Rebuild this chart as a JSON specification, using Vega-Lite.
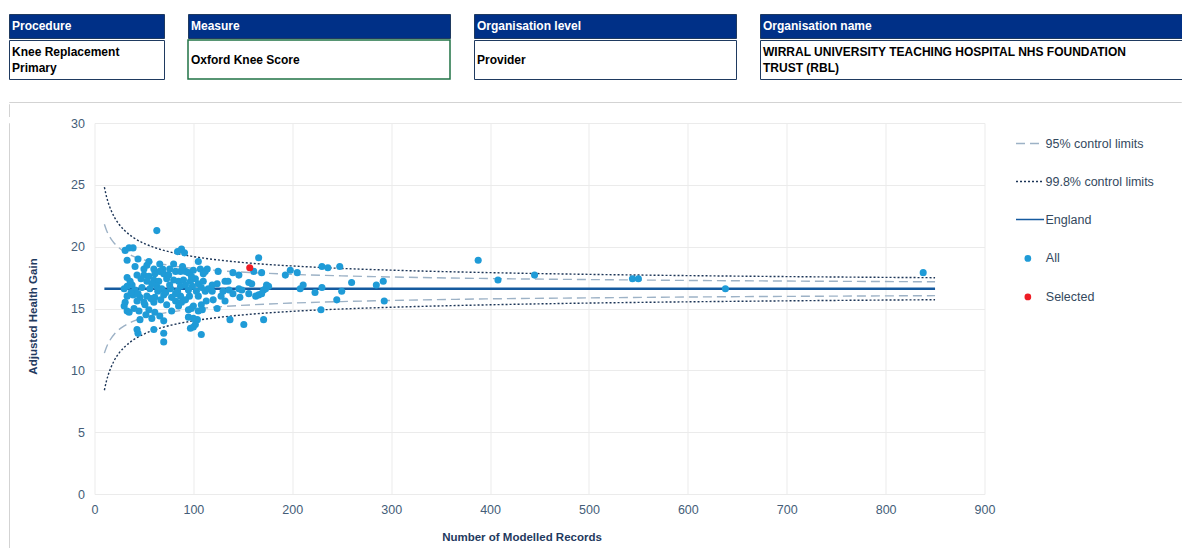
{
  "$schema": "https://vega.github.io/schema/vega-lite/v6.json",
  "background": "white",
  "padding": {"left": 8, "top": 13, "right": 0, "bottom": 0},
  "autosize": {"type": "pad"},
  "config": {"view": {"stroke": null}, "font": "Liberation Sans"},
  "datasets": {
    "lines": [
      {"n":10,"v":21.81,"series":"95% control limits","side":"u95"},{"n":12,"v":21.35,"series":"95% control limits","side":"u95"},{"n":15,"v":20.85,"series":"95% control limits","side":"u95"},{"n":17,"v":20.59,"series":"95% control limits","side":"u95"},{"n":20,"v":20.28,"series":"95% control limits","side":"u95"},{"n":25,"v":19.89,"series":"95% control limits","side":"u95"},{"n":30,"v":19.61,"series":"95% control limits","side":"u95"},{"n":35,"v":19.38,"series":"95% control limits","side":"u95"},{"n":40,"v":19.2,"series":"95% control limits","side":"u95"},{"n":50,"v":18.93,"series":"95% control limits","side":"u95"},{"n":60,"v":18.72,"series":"95% control limits","side":"u95"},{"n":70,"v":18.57,"series":"95% control limits","side":"u95"},{"n":80,"v":18.44,"series":"95% control limits","side":"u95"},{"n":100,"v":18.25,"series":"95% control limits","side":"u95"},{"n":130,"v":18.04,"series":"95% control limits","side":"u95"},{"n":160,"v":17.9,"series":"95% control limits","side":"u95"},{"n":200,"v":17.76,"series":"95% control limits","side":"u95"},{"n":250,"v":17.64,"series":"95% control limits","side":"u95"},{"n":300,"v":17.55,"series":"95% control limits","side":"u95"},{"n":400,"v":17.42,"series":"95% control limits","side":"u95"},{"n":500,"v":17.34,"series":"95% control limits","side":"u95"},{"n":600,"v":17.27,"series":"95% control limits","side":"u95"},{"n":700,"v":17.22,"series":"95% control limits","side":"u95"},{"n":850,"v":17.16,"series":"95% control limits","side":"u95"},
      {"n":10,"v":11.39,"series":"95% control limits","side":"l95"},{"n":12,"v":11.85,"series":"95% control limits","side":"l95"},{"n":15,"v":12.35,"series":"95% control limits","side":"l95"},{"n":17,"v":12.61,"series":"95% control limits","side":"l95"},{"n":20,"v":12.92,"series":"95% control limits","side":"l95"},{"n":25,"v":13.31,"series":"95% control limits","side":"l95"},{"n":30,"v":13.59,"series":"95% control limits","side":"l95"},{"n":35,"v":13.82,"series":"95% control limits","side":"l95"},{"n":40,"v":14.0,"series":"95% control limits","side":"l95"},{"n":50,"v":14.27,"series":"95% control limits","side":"l95"},{"n":60,"v":14.48,"series":"95% control limits","side":"l95"},{"n":70,"v":14.63,"series":"95% control limits","side":"l95"},{"n":80,"v":14.76,"series":"95% control limits","side":"l95"},{"n":100,"v":14.95,"series":"95% control limits","side":"l95"},{"n":130,"v":15.16,"series":"95% control limits","side":"l95"},{"n":160,"v":15.3,"series":"95% control limits","side":"l95"},{"n":200,"v":15.44,"series":"95% control limits","side":"l95"},{"n":250,"v":15.56,"series":"95% control limits","side":"l95"},{"n":300,"v":15.65,"series":"95% control limits","side":"l95"},{"n":400,"v":15.78,"series":"95% control limits","side":"l95"},{"n":500,"v":15.86,"series":"95% control limits","side":"l95"},{"n":600,"v":15.93,"series":"95% control limits","side":"l95"},{"n":700,"v":15.98,"series":"95% control limits","side":"l95"},{"n":850,"v":16.04,"series":"95% control limits","side":"l95"},
      {"n":10,"v":24.81,"series":"99.8% control limits","side":"u998"},{"n":12,"v":24.09,"series":"99.8% control limits","side":"u998"},{"n":15,"v":23.3,"series":"99.8% control limits","side":"u998"},{"n":17,"v":22.9,"series":"99.8% control limits","side":"u998"},{"n":20,"v":22.4,"series":"99.8% control limits","side":"u998"},{"n":25,"v":21.79,"series":"99.8% control limits","side":"u998"},{"n":30,"v":21.34,"series":"99.8% control limits","side":"u998"},{"n":35,"v":20.99,"series":"99.8% control limits","side":"u998"},{"n":40,"v":20.7,"series":"99.8% control limits","side":"u998"},{"n":50,"v":20.27,"series":"99.8% control limits","side":"u998"},{"n":60,"v":19.95,"series":"99.8% control limits","side":"u998"},{"n":70,"v":19.7,"series":"99.8% control limits","side":"u998"},{"n":80,"v":19.5,"series":"99.8% control limits","side":"u998"},{"n":100,"v":19.2,"series":"99.8% control limits","side":"u998"},{"n":130,"v":18.88,"series":"99.8% control limits","side":"u998"},{"n":160,"v":18.65,"series":"99.8% control limits","side":"u998"},{"n":200,"v":18.44,"series":"99.8% control limits","side":"u998"},{"n":250,"v":18.24,"series":"99.8% control limits","side":"u998"},{"n":300,"v":18.1,"series":"99.8% control limits","side":"u998"},{"n":400,"v":17.9,"series":"99.8% control limits","side":"u998"},{"n":500,"v":17.76,"series":"99.8% control limits","side":"u998"},{"n":600,"v":17.66,"series":"99.8% control limits","side":"u998"},{"n":700,"v":17.58,"series":"99.8% control limits","side":"u998"},{"n":850,"v":17.49,"series":"99.8% control limits","side":"u998"},
      {"n":10,"v":8.39,"series":"99.8% control limits","side":"l998"},{"n":12,"v":9.11,"series":"99.8% control limits","side":"l998"},{"n":15,"v":9.9,"series":"99.8% control limits","side":"l998"},{"n":17,"v":10.3,"series":"99.8% control limits","side":"l998"},{"n":20,"v":10.8,"series":"99.8% control limits","side":"l998"},{"n":25,"v":11.41,"series":"99.8% control limits","side":"l998"},{"n":30,"v":11.86,"series":"99.8% control limits","side":"l998"},{"n":35,"v":12.21,"series":"99.8% control limits","side":"l998"},{"n":40,"v":12.5,"series":"99.8% control limits","side":"l998"},{"n":50,"v":12.93,"series":"99.8% control limits","side":"l998"},{"n":60,"v":13.25,"series":"99.8% control limits","side":"l998"},{"n":70,"v":13.5,"series":"99.8% control limits","side":"l998"},{"n":80,"v":13.7,"series":"99.8% control limits","side":"l998"},{"n":100,"v":14.0,"series":"99.8% control limits","side":"l998"},{"n":130,"v":14.32,"series":"99.8% control limits","side":"l998"},{"n":160,"v":14.55,"series":"99.8% control limits","side":"l998"},{"n":200,"v":14.77,"series":"99.8% control limits","side":"l998"},{"n":250,"v":14.96,"series":"99.8% control limits","side":"l998"},{"n":300,"v":15.1,"series":"99.8% control limits","side":"l998"},{"n":400,"v":15.3,"series":"99.8% control limits","side":"l998"},{"n":500,"v":15.44,"series":"99.8% control limits","side":"l998"},{"n":600,"v":15.54,"series":"99.8% control limits","side":"l998"},{"n":700,"v":15.62,"series":"99.8% control limits","side":"l998"},{"n":850,"v":15.71,"series":"99.8% control limits","side":"l998"}
    ],
    "england": [
      {"n":10,"v":16.6,"series":"England"},{"n":850,"v":16.6,"series":"England"}
    ],
    "points": [
      {"n":63,"v":21.3,"grp":"All"},{"n":31,"v":19.7,"grp":"All"},{"n":35,"v":19.9,"grp":"All"},{"n":39,"v":19.9,"grp":"All"},{"n":84,"v":19.6,"grp":"All"},{"n":88,"v":19.8,"grp":"All"},{"n":91,"v":19.5,"grp":"All"},{"n":33,"v":18.9,"grp":"All"},{"n":44,"v":19.0,"grp":"All"},{"n":55,"v":18.8,"grp":"All"},{"n":66,"v":18.6,"grp":"All"},{"n":80,"v":18.6,"grp":"All"},{"n":105,"v":18.8,"grp":"All"},{"n":41,"v":18.4,"grp":"All"},{"n":50,"v":18.2,"grp":"All"},{"n":53,"v":18.5,"grp":"All"},{"n":60,"v":18.2,"grp":"All"},{"n":69,"v":18.2,"grp":"All"},{"n":70,"v":17.8,"grp":"All"},{"n":82,"v":18.0,"grp":"All"},{"n":87,"v":18.0,"grp":"All"},{"n":92,"v":18.0,"grp":"All"},{"n":95,"v":17.9,"grp":"All"},{"n":100,"v":18.1,"grp":"All"},{"n":107,"v":18.2,"grp":"All"},{"n":112,"v":18.0,"grp":"All"},{"n":114,"v":18.2,"grp":"All"},{"n":43,"v":17.7,"grp":"All"},{"n":50,"v":17.7,"grp":"All"},{"n":55,"v":17.6,"grp":"All"},{"n":61,"v":17.8,"grp":"All"},{"n":33,"v":17.5,"grp":"All"},{"n":53,"v":17.2,"grp":"All"},{"n":60,"v":17.3,"grp":"All"},{"n":65,"v":17.2,"grp":"All"},{"n":73,"v":17.4,"grp":"All"},{"n":80,"v":17.3,"grp":"All"},{"n":85,"v":17.2,"grp":"All"},{"n":90,"v":17.3,"grp":"All"},{"n":97,"v":17.2,"grp":"All"},{"n":102,"v":17.4,"grp":"All"},{"n":105,"v":17.0,"grp":"All"},{"n":110,"v":17.2,"grp":"All"},
      {"n":33,"v":16.8,"grp":"All"},{"n":38,"v":16.9,"grp":"All"},{"n":41,"v":16.5,"grp":"All"},{"n":48,"v":16.7,"grp":"All"},{"n":56,"v":16.6,"grp":"All"},{"n":63,"v":16.8,"grp":"All"},{"n":68,"v":16.6,"grp":"All"},{"n":77,"v":16.6,"grp":"All"},{"n":87,"v":16.8,"grp":"All"},{"n":92,"v":16.9,"grp":"All"},{"n":99,"v":16.8,"grp":"All"},{"n":108,"v":16.7,"grp":"All"},
      {"n":33,"v":16.0,"grp":"All"},{"n":39,"v":16.1,"grp":"All"},{"n":46,"v":15.9,"grp":"All"},{"n":53,"v":16.0,"grp":"All"},{"n":61,"v":15.9,"grp":"All"},{"n":70,"v":16.1,"grp":"All"},{"n":78,"v":15.9,"grp":"All"},{"n":87,"v":16.0,"grp":"All"},{"n":96,"v":16.0,"grp":"All"},{"n":105,"v":16.0,"grp":"All"},
      {"n":31,"v":15.5,"grp":"All"},{"n":43,"v":15.6,"grp":"All"},{"n":51,"v":15.3,"grp":"All"},{"n":60,"v":15.5,"grp":"All"},{"n":73,"v":15.3,"grp":"All"},{"n":82,"v":15.6,"grp":"All"},{"n":88,"v":15.5,"grp":"All"},{"n":100,"v":15.2,"grp":"All"},{"n":108,"v":15.3,"grp":"All"},
      {"n":33,"v":14.8,"grp":"All"},{"n":45,"v":14.8,"grp":"All"},{"n":55,"v":14.9,"grp":"All"},{"n":61,"v":14.7,"grp":"All"},{"n":78,"v":14.8,"grp":"All"},{"n":95,"v":14.9,"grp":"All"},{"n":105,"v":14.8,"grp":"All"},
      {"n":46,"v":14.1,"grp":"All"},{"n":58,"v":14.2,"grp":"All"},{"n":70,"v":14.0,"grp":"All"},{"n":104,"v":14.1,"grp":"All"},{"n":95,"v":14.3,"grp":"All"},
      {"n":43,"v":13.3,"grp":"All"},{"n":44,"v":13.0,"grp":"All"},{"n":60,"v":13.3,"grp":"All"},{"n":70,"v":13.0,"grp":"All"},{"n":100,"v":13.5,"grp":"All"},{"n":108,"v":12.9,"grp":"All"},{"n":70,"v":12.3,"grp":"All"},
      {"n":36,"v":17.2,"grp":"All"},{"n":47,"v":17.4,"grp":"All"},{"n":58,"v":17.0,"grp":"All"},{"n":75,"v":17.7,"grp":"All"},{"n":72,"v":16.3,"grp":"All"},{"n":84,"v":16.4,"grp":"All"},{"n":95,"v":16.5,"grp":"All"},{"n":67,"v":15.7,"grp":"All"},{"n":57,"v":15.8,"grp":"All"},{"n":92,"v":15.7,"grp":"All"},{"n":103,"v":16.4,"grp":"All"},{"n":112,"v":16.4,"grp":"All"},{"n":37,"v":16.3,"grp":"All"},{"n":44,"v":16.2,"grp":"All"},{"n":50,"v":15.5,"grp":"All"},{"n":64,"v":16.4,"grp":"All"},{"n":76,"v":16.9,"grp":"All"},{"n":82,"v":16.2,"grp":"All"},{"n":98,"v":17.6,"grp":"All"},{"n":110,"v":17.8,"grp":"All"},{"n":66,"v":18.0,"grp":"All"},{"n":89,"v":18.4,"grp":"All"},{"n":76,"v":18.2,"grp":"All"},{"n":40,"v":15.0,"grp":"All"},{"n":52,"v":14.5,"grp":"All"},{"n":66,"v":14.4,"grp":"All"},{"n":85,"v":15.2,"grp":"All"},{"n":113,"v":15.6,"grp":"All"},{"n":30,"v":16.6,"grp":"All"},{"n":30,"v":15.2,"grp":"All"},{"n":35,"v":14.7,"grp":"All"},
      {"n":119,"v":16.9,"grp":"All"},{"n":124,"v":17.0,"grp":"All"},{"n":132,"v":17.2,"grp":"All"},{"n":115,"v":16.6,"grp":"All"},{"n":119,"v":16.4,"grp":"All"},{"n":130,"v":16.4,"grp":"All"},{"n":120,"v":15.7,"grp":"All"},{"n":132,"v":15.6,"grp":"All"},{"n":124,"v":15.0,"grp":"All"},{"n":98,"v":15.0,"grp":"All"},{"n":109,"v":14.9,"grp":"All"},{"n":100,"v":14.2,"grp":"All"},{"n":102,"v":13.7,"grp":"All"},{"n":97,"v":13.4,"grp":"All"},
      {"n":166,"v":19.1,"grp":"All"},{"n":161,"v":18.0,"grp":"All"},{"n":169,"v":17.9,"grp":"All"},{"n":146,"v":17.7,"grp":"All"},{"n":193,"v":17.7,"grp":"All"},{"n":198,"v":18.1,"grp":"All"},{"n":205,"v":17.9,"grp":"All"},{"n":135,"v":17.2,"grp":"All"},{"n":156,"v":17.1,"grp":"All"},{"n":159,"v":17.0,"grp":"All"},{"n":136,"v":16.5,"grp":"All"},{"n":146,"v":16.6,"grp":"All"},{"n":149,"v":16.5,"grp":"All"},{"n":174,"v":16.9,"grp":"All"},{"n":176,"v":16.8,"grp":"All"},{"n":173,"v":16.6,"grp":"All"},{"n":171,"v":16.5,"grp":"All"},{"n":156,"v":16.2,"grp":"All"},{"n":163,"v":16.0,"grp":"All"},{"n":166,"v":16.1,"grp":"All"},{"n":169,"v":16.2,"grp":"All"},{"n":147,"v":15.9,"grp":"All"},{"n":208,"v":16.6,"grp":"All"},{"n":211,"v":16.9,"grp":"All"},{"n":137,"v":14.1,"grp":"All"},{"n":151,"v":13.7,"grp":"All"},{"n":171,"v":14.1,"grp":"All"},{"n":125,"v":18.0,"grp":"All"},{"n":140,"v":17.9,"grp":"All"},{"n":128,"v":16.0,"grp":"All"},{"n":140,"v":16.2,"grp":"All"},
      {"n":230,"v":18.4,"grp":"All"},{"n":236,"v":18.3,"grp":"All"},{"n":248,"v":18.4,"grp":"All"},{"n":223,"v":16.3,"grp":"All"},{"n":230,"v":16.7,"grp":"All"},{"n":250,"v":16.4,"grp":"All"},{"n":260,"v":17.1,"grp":"All"},{"n":285,"v":16.9,"grp":"All"},{"n":292,"v":17.2,"grp":"All"},{"n":245,"v":15.7,"grp":"All"},{"n":229,"v":14.9,"grp":"All"},{"n":293,"v":15.6,"grp":"All"},
      {"n":388,"v":18.9,"grp":"All"},{"n":408,"v":17.3,"grp":"All"},{"n":445,"v":17.7,"grp":"All"},{"n":544,"v":17.4,"grp":"All"},{"n":550,"v":17.4,"grp":"All"},{"n":638,"v":16.6,"grp":"All"},{"n":838,"v":17.9,"grp":"All"},
      {"n":157,"v":18.3,"grp":"Selected"}
    ]
  },
  "vconcat": [
    {
      "vconcat": [
        {
          "vconcat": [
            {
              "hconcat": [
                {"width": 155, "height": 24, "view": {"fill": "#003087", "stroke": "#1f3a60"}, "data": {"values": [{"field": "Procedure"}]},
                 "mark": {"type": "text", "align": "left", "baseline": "middle", "dx": 3, "fill": "#ffffff", "fontSize": 12, "fontWeight": "bold"},
                 "encoding": {"x": {"field": "field", "type": "nominal", "axis": null, "scale": {"type": "point", "padding": 0, "align": 0}}, "text": {"field": "field"}}},
                {"width": 262, "height": 24, "view": {"fill": "#003087", "stroke": "#1f3a60"}, "data": {"values": [{"field": "Measure"}]},
                 "mark": {"type": "text", "align": "left", "baseline": "middle", "dx": 3, "fill": "#ffffff", "fontSize": 12, "fontWeight": "bold"},
                 "encoding": {"x": {"field": "field", "type": "nominal", "axis": null, "scale": {"type": "point", "padding": 0, "align": 0}}, "text": {"field": "field"}}},
                {"width": 262, "height": 24, "view": {"fill": "#003087", "stroke": "#1f3a60"}, "data": {"values": [{"field": "Organisation level"}]},
                 "mark": {"type": "text", "align": "left", "baseline": "middle", "dx": 3, "fill": "#ffffff", "fontSize": 12, "fontWeight": "bold"},
                 "encoding": {"x": {"field": "field", "type": "nominal", "axis": null, "scale": {"type": "point", "padding": 0, "align": 0}}, "text": {"field": "field"}}},
                {"width": 428, "height": 24, "view": {"fill": "#003087", "stroke": "#1f3a60"}, "data": {"values": [{"field": "Organisation name"}]},
                 "mark": {"type": "text", "align": "left", "baseline": "middle", "dx": 3, "fill": "#ffffff", "fontSize": 12, "fontWeight": "bold"},
                 "encoding": {"x": {"field": "field", "type": "nominal", "axis": null, "scale": {"type": "point", "padding": 0, "align": 0}}, "text": {"field": "field"}}}
              ],
              "spacing": 22
            },
            {
              "hconcat": [
                {"width": 155, "height": 39, "view": {"fill": "#ffffff", "stroke": "#1f3a60"}, "data": {"values": [{"value": "Knee Replacement\nPrimary"}]},
                 "mark": {"type": "text", "align": "left", "baseline": "middle", "dx": 3, "dy": -8, "fill": "#000000", "fontSize": 12, "fontWeight": "bold", "lineBreak": "\n", "lineHeight": 16.5},
                 "encoding": {"x": {"field": "value", "type": "nominal", "axis": null, "scale": {"type": "point", "padding": 0, "align": 0}}, "text": {"field": "value"}}},
                {"width": 262, "height": 39, "view": {"fill": "#ffffff", "stroke": "#217346", "strokeWidth": 1.5}, "data": {"values": [{"value": "Oxford Knee Score"}]},
                 "mark": {"type": "text", "align": "left", "baseline": "middle", "dx": 3, "fill": "#000000", "fontSize": 12, "fontWeight": "bold"},
                 "encoding": {"x": {"field": "value", "type": "nominal", "axis": null, "scale": {"type": "point", "padding": 0, "align": 0}}, "text": {"field": "value"}}},
                {"width": 262, "height": 39, "view": {"fill": "#ffffff", "stroke": "#1f3a60"}, "data": {"values": [{"value": "Provider"}]},
                 "mark": {"type": "text", "align": "left", "baseline": "middle", "dx": 3, "fill": "#000000", "fontSize": 12, "fontWeight": "bold"},
                 "encoding": {"x": {"field": "value", "type": "nominal", "axis": null, "scale": {"type": "point", "padding": 0, "align": 0}}, "text": {"field": "value"}}},
                {"width": 428, "height": 39, "view": {"fill": "#ffffff", "stroke": "#1f3a60"}, "data": {"values": [{"value": "WIRRAL UNIVERSITY TEACHING HOSPITAL NHS FOUNDATION\nTRUST (RBL)"}]},
                 "mark": {"type": "text", "align": "left", "baseline": "middle", "dx": 3, "dy": -8, "fill": "#000000", "fontSize": 12, "fontWeight": "bold", "lineBreak": "\n", "lineHeight": 16.5},
                 "encoding": {"x": {"field": "value", "type": "nominal", "axis": null, "scale": {"type": "point", "padding": 0, "align": 0}}, "text": {"field": "value"}}}
              ],
              "spacing": 22
            }
          ],
          "spacing": 0
        },
        {
          "vconcat": [
            {"width": 1172, "height": 0.01, "view": {"stroke": "#d3d3d3", "strokeWidth": 1}, "data": {"values": []}, "mark": "point", "encoding": {}},
            {"width": 0.01, "height": 12.5, "view": {"stroke": "#d3d3d3", "strokeWidth": 1}, "data": {"values": []}, "mark": "point", "encoding": {}}
          ],
          "spacing": 0
        }
      ],
      "spacing": 21
    },
    {
      "hconcat": [
        {"width": 0.01, "height": 436, "view": {"stroke": "#d3d3d3", "strokeWidth": 1}, "data": {"values": []}, "mark": "point", "encoding": {}},
        {
          "width": 890,
          "height": 371,
          "layer": [
            {
              "data": {"name": "lines"},
              "mark": {"type": "line", "interpolate": "monotone", "strokeWidth": 1.4},
              "encoding": {
                "x": {"field": "n", "type": "quantitative", "scale": {"domain": [0, 900], "nice": false},
                      "axis": {"values": [0,100,200,300,400,500,600,700,800,900], "grid": true, "gridColor": "#ebebeb", "domain": false, "ticks": false, "labelFlush": false,
                               "labelPadding": 9, "labelFontSize": 12.5, "labelColor": "#445d78", "title": "Number of Modelled Records",
                               "titleFontSize": 11.5, "titleFontWeight": "bold", "titleColor": "#1f3a60", "titlePadding": 16, "titleX": 427}},
                "y": {"field": "v", "type": "quantitative", "scale": {"domain": [0, 30], "nice": false},
                      "axis": {"values": [0,5,10,15,20,25,30], "grid": true, "gridColor": "#ebebeb", "domain": false, "ticks": false,
                               "labelPadding": 10, "labelFontSize": 12.5, "labelColor": "#445d78", "title": "Adjusted Health Gain",
                               "titleFontSize": 11.5, "titleFontWeight": "bold", "titleColor": "#1f3a60", "titlePadding": 32, "titleY": 193}},
                "detail": {"field": "side"},
                "color": {"field": "series", "type": "nominal",
                          "scale": {"domain": ["95% control limits", "99.8% control limits", "England"], "range": ["#9db2c6", "#1c3557", "#155a9f"]},
                          "legend": {"title": null, "orient": "none", "legendX": 1006, "legendY": 114.5, "symbolType": "stroke", "symbolSize": 784,
                                     "symbolStrokeWidth": 1.5, "rowPadding": 16, "labelOffset": 0.5, "labelFontSize": 12.5, "labelColor": "#34495e", "padding": 0}},
                "strokeDash": {"field": "series", "type": "nominal",
                               "scale": {"domain": ["95% control limits", "99.8% control limits", "England"], "range": [[9, 5], [2, 2], [1, 0]]}}
              }
            },
            {
              "data": {"name": "england"},
              "mark": {"type": "line", "strokeWidth": 2.5},
              "encoding": {
                "x": {"field": "n", "type": "quantitative"},
                "y": {"field": "v", "type": "quantitative"},
                "color": {"field": "series", "type": "nominal"},
                "strokeDash": {"field": "series", "type": "nominal"}
              }
            },
            {
              "data": {"name": "points"},
              "mark": {"type": "circle", "size": 50, "opacity": 1},
              "encoding": {
                "x": {"field": "n", "type": "quantitative"},
                "y": {"field": "v", "type": "quantitative"},
                "order": {"field": "grp", "type": "nominal"},
                "fill": {"field": "grp", "type": "nominal",
                         "scale": {"domain": ["All", "Selected"], "range": ["#1f9bd7", "#ee1c25"]},
                         "legend": {"title": null, "orient": "none", "legendX": 1012.6, "legendY": 238.2, "symbolType": "circle", "symbolSize": 45,
                                    "symbolStrokeWidth": 0, "rowPadding": 25.5, "labelOffset": 11.7, "labelFontSize": 12.5, "labelColor": "#34495e", "padding": 0}}
              }
            }
          ]
        }
      ],
      "spacing": 17.5
    }
  ],
  "spacing": 0
}
